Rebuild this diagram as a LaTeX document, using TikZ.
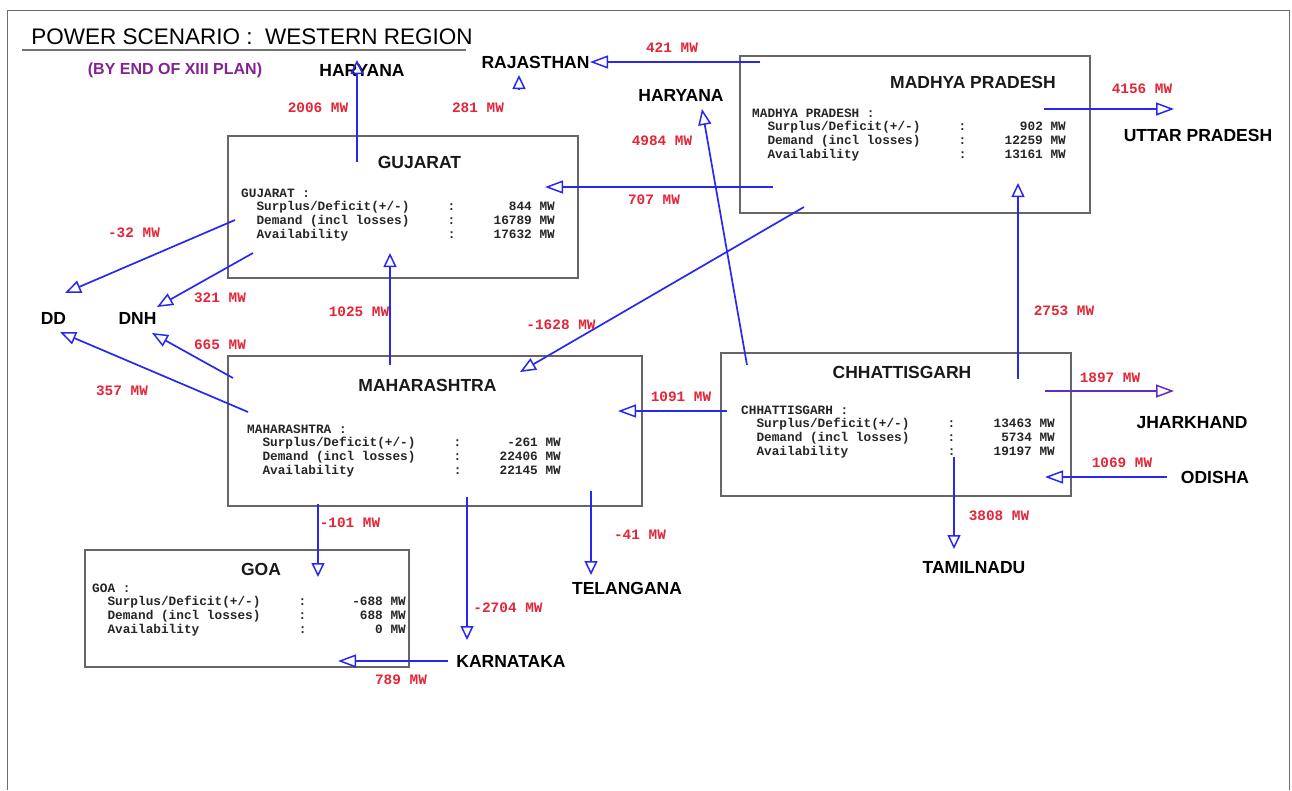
\documentclass[tikz,border=0pt]{standalone}
\usepackage{fontspec}
\setmainfont{Liberation Sans}
\newfontfamily\monofont{Liberation Mono}
\usetikzlibrary{arrows.meta,shadows}

\definecolor{flowblue}{RGB}{40,40,240}
\definecolor{jhpurple}{RGB}{95,45,205}
\definecolor{mwred}{RGB}{228,38,56}
\definecolor{plumtext}{RGB}{130,35,145}
\definecolor{framegray}{RGB}{110,110,110}

% one character of the 12.75pt monospaced table font
\newlength\cw
\setlength\cw{7.65pt}
\newcommand\inforow[2]{\makebox[27\cw][l]{\hspace*{2\cw}#1}:\makebox[13\cw][r]{#2}}
\newcommand\infoblock[4]{\parbox[t]{41\cw}{\fontsize{12.75}{13.7}\selectfont
  #1 :\\
  \inforow{Surplus/Deficit(+/-)}{#2}\\
  \inforow{Demand (incl losses)}{#3}\\
  \inforow{Availability}{#4}}}

\begin{document}
\begin{tikzpicture}[x=1pt,y=-1pt,
  regbox/.style={draw=black!60, line width=1.3pt, fill=white, rectangle, inner sep=0,
    drop shadow={shadow xshift=1.3pt, shadow yshift=-1.3pt, fill=black!35, opacity=0.8}},
  boxtitle/.style={inner sep=0, font=\bfseries\fontsize{17.5}{20}\selectfont, text=black!90},
  place/.style={inner sep=0, font=\bfseries\fontsize{17.5}{20}\selectfont, text=black},
  infotext/.style={inner sep=0, anchor=base west, font=\monofont\bfseries, text=black!85},
  mw/.style={inner sep=0, font=\monofont\bfseries\fontsize{14.4}{16}\selectfont, text=mwred},
  flow/.style={draw=flowblue, line width=1.7pt,
    -{Triangle[open, length=18pt, width=13pt, line width=1.5pt]}},
  flowv/.style={draw=flowblue, line width=1.7pt,
    -{Triangle[open, length=14pt, width=13pt, line width=1.5pt]}},
  flowd/.style={draw=flowblue, line width=1.7pt,
    -{Triangle[open, length=16pt, width=13pt, line width=1.5pt]}}]

\useasboundingbox (0,0) rectangle (1292,790);
\fill[white] (0,0) rectangle (1292,790);

% page frame
\draw[framegray, line width=0.8pt] (7,790) -- (7,10) -- (1289,10) -- (1289,790);

% heading
\node[inner sep=0, font=\fontsize{22.5}{26}\selectfont] (heading) at (252,37)
  {POWER SCENARIO :~ WESTERN REGION};
\draw[black!55, line width=1.5pt] (22,50) -- (466,50);
\node[inner sep=0, font=\bfseries\fontsize{16}{18}\selectfont, text=plumtext] (plan) at (175,70)
  {(BY END OF XIII PLAN)};

% state boxes
\node[regbox, minimum width=350pt, minimum height=142pt] (guj) at (403,207) {};
\node[regbox, minimum width=350pt, minimum height=157pt] (mp) at (915,134.5) {};
\node[regbox, minimum width=414pt, minimum height=150pt] (maha) at (435,431) {};
\node[regbox, minimum width=350pt, minimum height=143pt] (chh) at (896,424.5) {};
\node[regbox, minimum width=324pt, minimum height=117pt] (goa) at (247,608.5) {};

\node[boxtitle] (gujtitle) at (419.5,162) {GUJARAT};
\node[boxtitle] (mptitle) at (973,82) {MADHYA PRADESH};
\node[boxtitle] (mahatitle) at (427.5,385) {MAHARASHTRA};
\node[boxtitle] (chhtitle) at (902,372) {CHHATTISGARH};
\node[boxtitle] (goatitle) at (261,569) {GOA};

\node[infotext] (gujinfo) at (241,197) {\infoblock{GUJARAT}{844 MW}{16789 MW}{17632 MW}};
\node[infotext] (mpinfo) at (752,117) {\infoblock{MADHYA PRADESH}{902 MW}{12259 MW}{13161 MW}};
\node[infotext] (mahainfo) at (247,433) {\infoblock{MAHARASHTRA}{-261 MW}{22406 MW}{22145 MW}};
\node[infotext] (chhinfo) at (741,414) {\infoblock{CHHATTISGARH}{13463 MW}{5734 MW}{19197 MW}};
\node[infotext] (goainfo) at (92,592) {\infoblock{GOA}{-688 MW}{688 MW}{0 MW}};

% neighbouring regions
\node[place] (harw) at (362,70) {HARYANA};
\node[place] (raj) at (535.5,62) {RAJASTHAN};
\node[place] (hare) at (681,95) {HARYANA};
\node[place] (up) at (1198,135) {UTTAR PRADESH};
\node[place] (dd) at (53.5,318) {DD};
\node[place] (dnh) at (137.5,318) {DNH};
\node[place] (jh) at (1192,423) {JHARKHAND};
\node[place] (od) at (1215,477) {ODISHA};
\node[place] (tel) at (627,588) {TELANGANA};
\node[place] (tn) at (974,568) {TAMILNADU};
\node[place] (ka) at (511,661) {KARNATAKA};

% connector end points
\coordinate (gujN) at (357,162);   \coordinate (harwS) at (357,60);
\coordinate (mpW) at (760,62);     \coordinate (rajE) at (590,62);
\coordinate (rajstub) at (519,89); \coordinate (rajS) at (519,75);
\coordinate (chhNW) at (747,365);  \coordinate (hareS) at (702,109);
\coordinate (mpL) at (773,187);    \coordinate (gujE) at (545,187);
\coordinate (mpSW) at (804,207);   \coordinate (mahaNE) at (520,372);
\coordinate (mpE) at (1044,109);   \coordinate (upW) at (1174,109);
\coordinate (chhN) at (1018,379);  \coordinate (mpS) at (1018,183);
\coordinate (chhE) at (1045,391);  \coordinate (jhW) at (1174,391);
\coordinate (odW) at (1167,477);   \coordinate (chhSE) at (1045,477);
\coordinate (chhS) at (954,457);   \coordinate (tnN) at (954,549);
\coordinate (chhW) at (727,411);   \coordinate (mahaE) at (618,411);
\coordinate (mahaN) at (390,365);  \coordinate (gujS) at (390,253);
\coordinate (gujW) at (235,220);   \coordinate (ddNE) at (65,293);
\coordinate (gujSW) at (253,253);  \coordinate (dnhNE) at (157,307);
\coordinate (mahaW) at (233,378);  \coordinate (dnhSE) at (152,333);
\coordinate (mahaWW) at (248,412); \coordinate (ddSE) at (60,332);
\coordinate (mahaS1) at (318,504); \coordinate (goaN) at (318,577);
\coordinate (mahaS2) at (467,497); \coordinate (kaN) at (467,640);
\coordinate (mahaS3) at (591,491); \coordinate (telN) at (591,575);
\coordinate (kaW) at (448,661);    \coordinate (goaE) at (338,661);

% power flows
\draw[flowv] (gujN) -- (harwS);
\draw[flow] (mpW) -- (rajE);
\draw[flowv] (rajstub) -- (rajS);
\draw[flowd] (chhNW) -- (hareS);
\draw[flow] (mpL) -- (gujE);
\draw[flowd] (mpSW) -- (mahaNE);
\draw[flow] (mpE) -- (upW);
\draw[flowv] (chhN) -- (mpS);
\draw[flow, draw=jhpurple] (chhE) -- (jhW);
\draw[flow] (odW) -- (chhSE);
\draw[flowv] (chhS) -- (tnN);
\draw[flow] (chhW) -- (mahaE);
\draw[flowv] (mahaN) -- (gujS);
\draw[flowd] (gujW) -- (ddNE);
\draw[flowd] (gujSW) -- (dnhNE);
\draw[flowd] (mahaW) -- (dnhSE);
\draw[flowd] (mahaWW) -- (ddSE);
\draw[flowv] (mahaS1) -- (goaN);
\draw[flowv] (mahaS2) -- (kaN);
\draw[flowv] (mahaS3) -- (telN);
\draw[flow] (kaW) -- (goaE);

% flow values
\node[mw] (v2006) at (318,108) {2006 MW};
\node[mw] (v421) at (672,48) {421 MW};
\node[mw] (v281) at (478,108) {281 MW};
\node[mw] (v4984) at (662,141) {4984 MW};
\node[mw] (v707) at (654,200) {707 MW};
\node[mw] (v1628) at (561,325) {-1628 MW};
\node[mw] (v4156) at (1142,89) {4156 MW};
\node[mw] (v2753) at (1064,311) {2753 MW};
\node[mw] (v1897) at (1110,378) {1897 MW};
\node[mw] (v1069) at (1122,463) {1069 MW};
\node[mw] (v3808) at (999,516) {3808 MW};
\node[mw] (v1091) at (681,397) {1091 MW};
\node[mw] (v1025) at (359,312) {1025 MW};
\node[mw] (v32) at (134,233) {-32 MW};
\node[mw] (v321) at (220,298) {321 MW};
\node[mw] (v665) at (220,345) {665 MW};
\node[mw] (v357) at (122,391) {357 MW};
\node[mw] (v101) at (350,523) {-101 MW};
\node[mw] (v2704) at (508,608) {-2704 MW};
\node[mw] (v41) at (640,535) {-41 MW};
\node[mw] (v789) at (401,680) {789 MW};
\end{tikzpicture}
\end{document}
